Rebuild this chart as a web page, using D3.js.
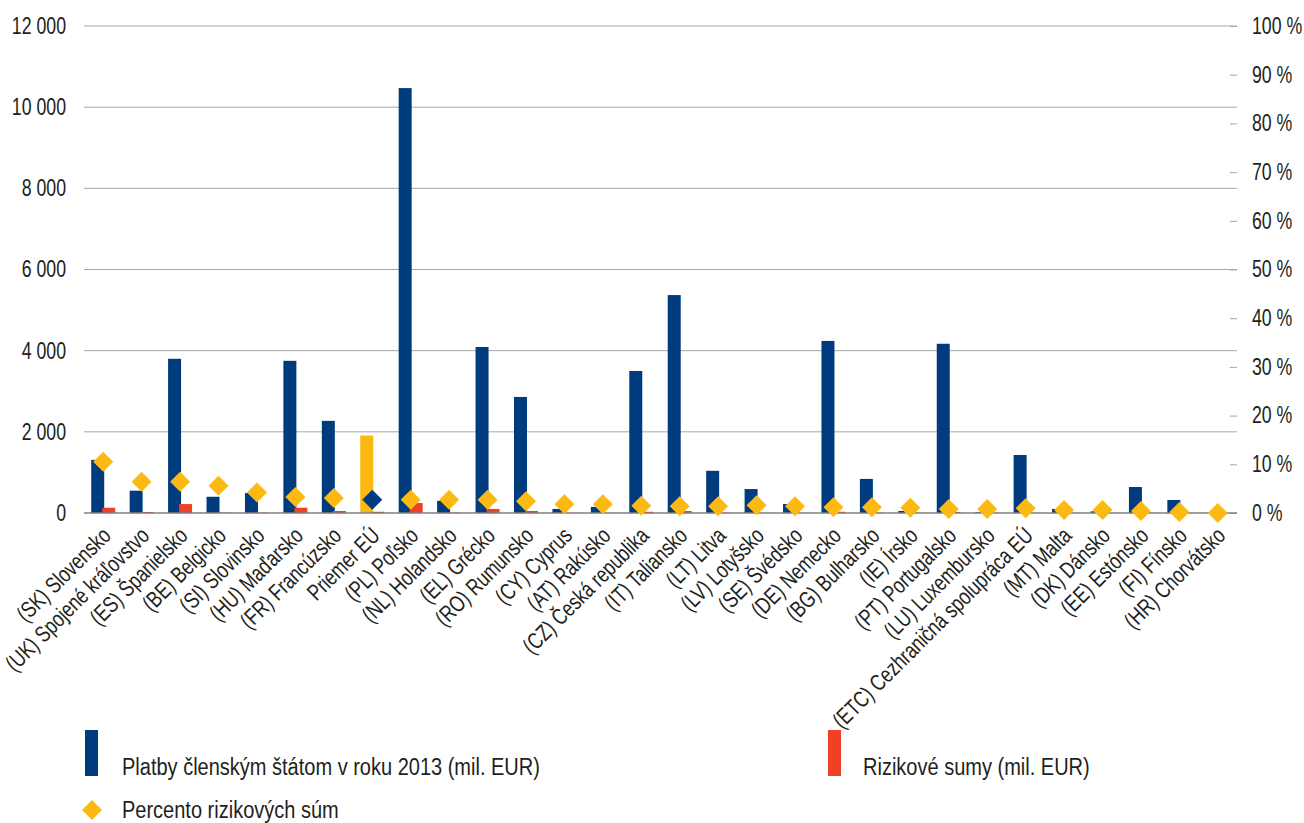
<!DOCTYPE html>
<html>
<head>
<meta charset="utf-8">
<script src="https://cdn.jsdelivr.net/npm/d3@7"></script>
<style>
  body { margin: 0; background: #fff; }
  svg text { font-family: "Liberation Sans", Arial, sans-serif; fill: #231f20; }
</style>
</head>
<body>
<svg id="svg1" width="1304" height="823"></svg>
<script>
var categories = ["(SK) Slovensko", "(UK) Spojené kráľovstvo", "(ES) Španielsko", "(BE) Belgicko",
  "(SI) Slovinsko", "(HU) Maďarsko", "(FR) Francúzsko", "Priemer EÚ", "(PL) Poľsko", "(NL) Holandsko",
  "(EL) Grécko", "(RO) Rumunsko", "(CY) Cyprus", "(AT) Rakúsko", "(CZ) Česká republika", "(IT) Taliansko",
  "(LT) Litva", "(LV) Lotyšsko", "(SE) Švédsko", "(DE) Nemecko", "(BG) Bulharsko", "(IE) Írsko",
  "(PT) Portugalsko", "(LU) Luxembursko", "(ETC) Cezhraničná spolupráca EÚ", "(MT) Malta", "(DK) Dánsko",
  "(EE) Estónsko", "(FI) Fínsko", "(HR) Chorvátsko"];

// platby clenskym statom 2013 (mil. EUR)
var payments = [1310, 550, 3800, 400, 490, 3750, 2270, 1910, 10470, 300,
  4090, 2860, 100, 150, 3500, 5370, 1040, 590, 220, 4240,
  840, 50, 4170, 20, 1430, 100, 40, 640, 320, 5];

// rizikove sumy (mil. EUR)
var risk = [130, 25, 220, 10, 10, 130, 50, 30, 246, 10,
  100, 50, 5, 5, 30, 50, 10, 5, 5, 30,
  10, 5, 25, 5, 5, 5, 5, 5, 5, 0];

// percento rizikovych sum
var percent = [0.105, 0.064, 0.064, 0.056, 0.042, 0.033, 0.031, 0.027, 0.027, 0.027,
  0.027, 0.024, 0.018, 0.018, 0.015, 0.014, 0.014, 0.016, 0.014, 0.012,
  0.012, 0.011, 0.008, 0.008, 0.010, 0.006, 0.006, 0.004, 0.002, 0.0];

var leftTicks = [0, 2000, 4000, 6000, 8000, 10000, 12000];
var rightTicks = [0, 0.1, 0.2, 0.3, 0.4, 0.5, 0.6, 0.7, 0.8, 0.9, 1.0];
var avgIndex = 7;

var blue = "#003c7d", red = "#ef4123", yellow = "#fdb913";

var svg = d3.select('svg');

var x = d3.scaleBand().domain(categories).range([84, 1237]).padding(0);
var y = d3.scaleLinear().domain([0, 12000]).range([513, 26]);
var y2 = d3.scaleLinear().domain([0, 1]).range([513, 26]);

var fmt = function(d) { return d3.format(",")(d).replace(/,/g, " "); };

// gridlines
svg.append('g')
   .selectAll('line')
   .data(leftTicks.filter(function(d) { return d > 0; }))
   .enter()
   .append('line')
   .attr('x1', 84).attr('x2', 1237)
   .attr('y1', function(d) { return y(d); })
   .attr('y2', function(d) { return y(d); })
   .attr('stroke', '#a6a6a6')
   .attr('stroke-width', 1);

// left axis (condensed look via scaleX)
var leftAxis = svg.append('g')
   .attr('transform', 'translate(84,0)')
   .call(d3.axisLeft(y).tickValues(leftTicks).tickFormat(fmt).tickSize(0));
leftAxis.select('.domain').remove();
leftAxis.selectAll('text')
   .attr('x', 0)
   .attr('transform', 'translate(-18,0) scale(0.77,1)')
   .style('font-size', '23px');

// right axis
var rightAxis = svg.append('g')
   .attr('transform', 'translate(1237,0)')
   .call(d3.axisRight(y2).tickValues(rightTicks)
     .tickFormat(function(d) { return Math.round(d * 100) + " %"; })
     .tickSizeInner(-7).tickSizeOuter(0));
rightAxis.select('.domain').remove();
rightAxis.selectAll('line').attr('stroke', '#a6a6a6');
rightAxis.selectAll('text')
   .attr('x', 0)
   .attr('transform', 'translate(15,0) scale(0.77,1)')
   .style('font-size', '23px');

var bw = 13;

// payment bars
svg.append('g')
   .selectAll('rect')
   .data(payments)
   .enter()
   .append('rect')
   .attr('x', function(d, i) { return x(categories[i]) + x.bandwidth() / 2 - 12; })
   .attr('y', function(d) { return y(d); })
   .attr('width', bw)
   .attr('height', function(d) { return y(0) - y(d); })
   .attr('fill', function(d, i) { return i == avgIndex ? yellow : blue; });

// risk bars
svg.append('g')
   .selectAll('rect')
   .data(risk)
   .enter()
   .append('rect')
   .attr('x', function(d, i) { return x(categories[i]) + x.bandwidth() / 2 - 1; })
   .attr('y', function(d) { return y(d); })
   .attr('width', bw)
   .attr('height', function(d) { return y(0) - y(d); })
   .attr('fill', red);

// zero axis line
svg.append('line')
   .attr('x1', 84).attr('x2', 1237)
   .attr('y1', y(0)).attr('y2', y(0))
   .attr('stroke', '#7f7f7f')
   .attr('stroke-width', 1.5);

// diamonds
var diamond = d3.symbol().type(d3.symbolSquare).size(200);
svg.append('g')
   .selectAll('path')
   .data(percent)
   .enter()
   .append('path')
   .attr('d', diamond)
   .attr('transform', function(d, i) {
     return 'translate(' + (x(categories[i]) + x.bandwidth() / 2) + ',' + y2(d) + ') rotate(45)';
   })
   .attr('fill', function(d, i) { return i == avgIndex ? blue : yellow; });

// category labels
svg.append('g')
   .selectAll('text')
   .data(categories)
   .enter()
   .append('text')
   .attr('text-anchor', 'end')
   .attr('transform', function(d) {
     return 'translate(' + (x(d) + x.bandwidth() / 2 + 9) + ',537) rotate(-45) scale(0.77,1)';
   })
   .style('font-size', '23px')
   .text(function(d) { return d; });

// legend
var legend = svg.append('g');
legend.append('rect').attr('x', 85).attr('y', 730).attr('width', 13).attr('height', 46).attr('fill', blue);
legend.append('text').attr('transform', 'translate(122,775) scale(0.87,1)').style('font-size', '23px')
      .text('Platby členským štátom v roku 2013 (mil. EUR)');
legend.append('rect').attr('x', 828).attr('y', 730).attr('width', 13).attr('height', 46).attr('fill', red);
legend.append('text').attr('transform', 'translate(863,775) scale(0.87,1)').style('font-size', '23px')
      .text('Rizikové sumy (mil. EUR)');
legend.append('path').attr('d', diamond)
      .attr('transform', 'translate(92,810) rotate(45)').attr('fill', yellow);
legend.append('text').attr('transform', 'translate(122,818) scale(0.87,1)').style('font-size', '23px')
      .text('Percento rizikových súm');
</script>
</body>
</html>
